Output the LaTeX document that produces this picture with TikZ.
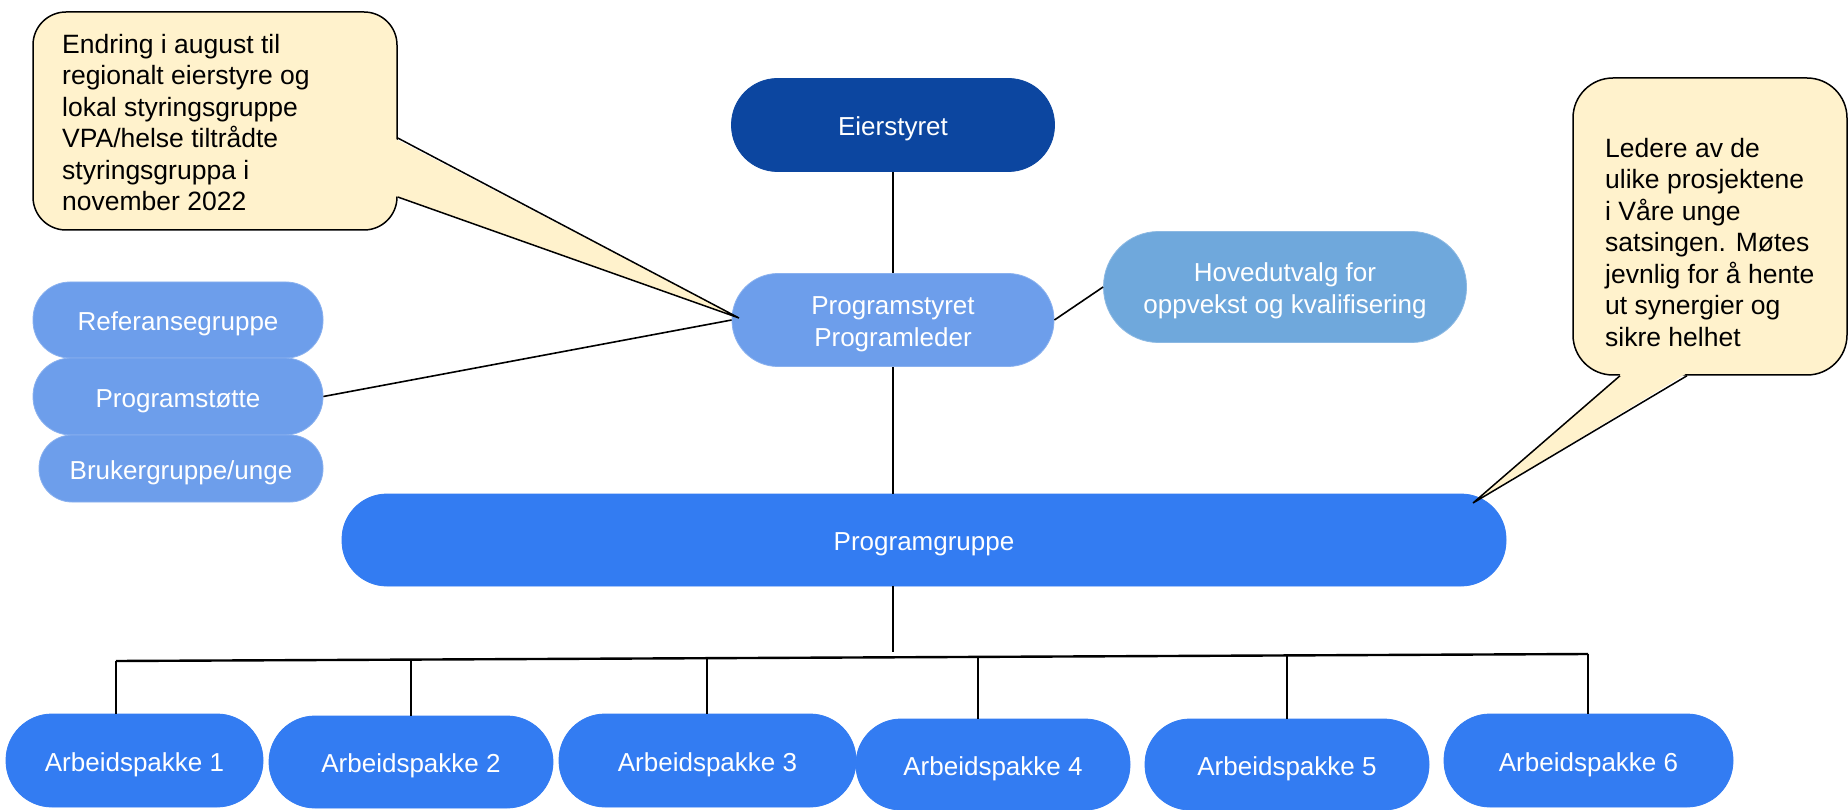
\documentclass[tikz,border=0pt]{standalone}
\usepackage{fontspec}
\setmainfont{Liberation Sans}
\usetikzlibrary{calc}
\definecolor{darkbl}{HTML}{0C46A0}
\definecolor{lightbl}{HTML}{6D9EEB}
\definecolor{hubl}{HTML}{6FA8DC}
\definecolor{mainbl}{HTML}{337CF2}
\definecolor{callfill}{HTML}{FFF2CC}
\newcommand\boxfont{\fontsize{26}{32}\selectfont}
\newcommand\callfont{\fontsize{26.5}{31.5}\selectfont}
\newcommand\topstrut[1]{\rule{0pt}{#1}}
\begin{document}
\begin{tikzpicture}[x=1pt,y=-1pt,
  box/.style={text=white, font=\boxfont, align=center, inner sep=0pt, line width=0.8pt},
  oneline/.style={text height=21.6pt, text depth=0pt},
  lightbox/.style={box, fill=lightbl, draw=lightbl!80!white},
  apbox/.style={box, oneline, fill=mainbl, draw=mainbl, rounded corners=46pt, minimum height=92pt},
  lnk/.style={line width=1.6pt, black},
  buslnk/.style={line width=2.4pt, black},
  callbox/.style={fill=callfill, draw=black, line width=1.5pt, inner sep=0pt},
  calltext/.style={inner sep=0pt, align=left, font=\callfont, text=black, anchor=north west},
]
\useasboundingbox (0,0) rectangle (1848,810);
\fill[white] (0,0) rectangle (1848,810);

% main boxes
\node[box, oneline, fill=darkbl, draw=darkbl, rounded corners=46pt, minimum width=323pt, minimum height=93pt] (es) at (893,125) {Eierstyret};
\node[lightbox, rounded corners=46pt, minimum width=322pt, minimum height=93pt] (ps) at (893,320) {\topstrut{26.5pt}Programstyret\\Programleder};
\node[box, fill=hubl, draw=hubl!80!white, rounded corners=55pt, minimum width=363pt, minimum height=111pt] (hu) at (1285,287) {\topstrut{26.5pt}Hovedutvalg for\\oppvekst og kvalifisering};
\node[lightbox, oneline, rounded corners=37pt, minimum width=290pt, minimum height=76pt] (rg) at (178,320) {Referansegruppe};
\node[lightbox, oneline, rounded corners=38pt, minimum width=290pt, minimum height=77pt] (pst) at (178,396.5) {Programstøtte};
\node[lightbox, oneline, rounded corners=33pt, minimum width=284pt, minimum height=67pt] (bg) at (181,468.5) {Brukergruppe/unge};
\node[box, oneline, fill=mainbl, draw=mainbl, rounded corners=45pt, minimum width=1164pt, minimum height=92pt] (pg) at (924,540) {Programgruppe};

\node[apbox, minimum width=257pt, minimum height=93pt] (ap1) at (134.5,760.5) {Arbeidspakke 1};
\node[apbox, minimum width=284pt] (ap2) at (411,762) {Arbeidspakke 2};
\node[apbox, minimum width=297pt, minimum height=93pt] (ap3) at (707.5,760.5) {Arbeidspakke 3};
\node[apbox, minimum width=274pt, minimum height=91pt, rounded corners=45pt] (ap4) at (993,764.5) {Arbeidspakke 4};
\node[apbox, minimum width=284pt, minimum height=91pt, rounded corners=45pt] (ap5) at (1287,764.5) {Arbeidspakke 5};
\node[apbox, minimum width=289pt, minimum height=93pt] (ap6) at (1588.5,760.5) {Arbeidspakke 6};

% connectors
\draw[lnk] (es.south) -- (ps.north);
\draw[lnk] (ps.south) -- (ps.south |- pg.north);
\draw[lnk] (ps.east) -- (hu.west);
\draw[lnk] (pst.east) -- (ps.west);

\coordinate (j) at (893,652);
\coordinate (bL) at (116,661);
\coordinate (bR) at (1588,654);
\coordinate (b2) at ($(bL)!0.2004!(bR)$);
\coordinate (b3) at ($(bL)!0.4015!(bR)$);
\coordinate (b4) at ($(bL)!0.5856!(bR)$);
\coordinate (b5) at ($(bL)!0.7955!(bR)$);
\draw[lnk] (j |- pg.south) -- (j);
\draw[buslnk] (bL) -- (bR);
\draw[lnk] (bL) -- (bL |- ap1.north);
\draw[lnk] (b2) -- (b2 |- ap2.north);
\draw[lnk] (b3) -- (b3 |- ap3.north);
\draw[lnk] (b4) -- (b4 |- ap4.north);
\draw[lnk] (b5) -- (b5 |- ap5.north);
\draw[lnk] (bR) -- (bR |- ap6.north);

% callout 1
\node[callbox, rounded corners=33pt, minimum width=364pt, minimum height=218pt] (c1) at (215,121) {};
\coordinate (c1tip) at (739,318);
\coordinate (c1a) at ($(c1.east)+(0,17)$);
\coordinate (c1b) at ($(c1.east)+(0,76)$);
\fill[callfill] ($(c1a)+(-2,1)$) -- (c1tip) -- ($(c1b)+(-2,-1)$) -- cycle;
\draw[line width=1.5pt, line join=miter] (c1a) -- (c1tip) -- (c1b);
\node[calltext] (c1t) at (62,34) {Endring i august til\\regionalt eierstyre og\\lokal styringsgruppe\\VPA/helse tiltrådte\\styringsgruppa i\\november 2022};

% callout 2
\node[callbox, rounded corners=40pt, minimum width=274pt, minimum height=297pt] (c2) at (1710,226.5) {};
\coordinate (c2tip) at (1473,503);
\coordinate (c2a) at ($(c2.south)+(-90,0)$);
\coordinate (c2b) at ($(c2.south)+(-23,0)$);
\fill[callfill] ($(c2a)+(1,-2)$) -- (c2tip) -- ($(c2b)+(-1,-2)$) -- cycle;
\draw[line width=1.5pt, line join=miter] (c2a) -- (c2tip) -- (c2b);
\node[calltext] (c2t) at (1605,138) {Ledere av de\\ulike prosjektene\\i Våre unge\\satsingen. Møtes\\jevnlig for å hente\\ut synergier og\\sikre helhet};
\end{tikzpicture}
\end{document}
